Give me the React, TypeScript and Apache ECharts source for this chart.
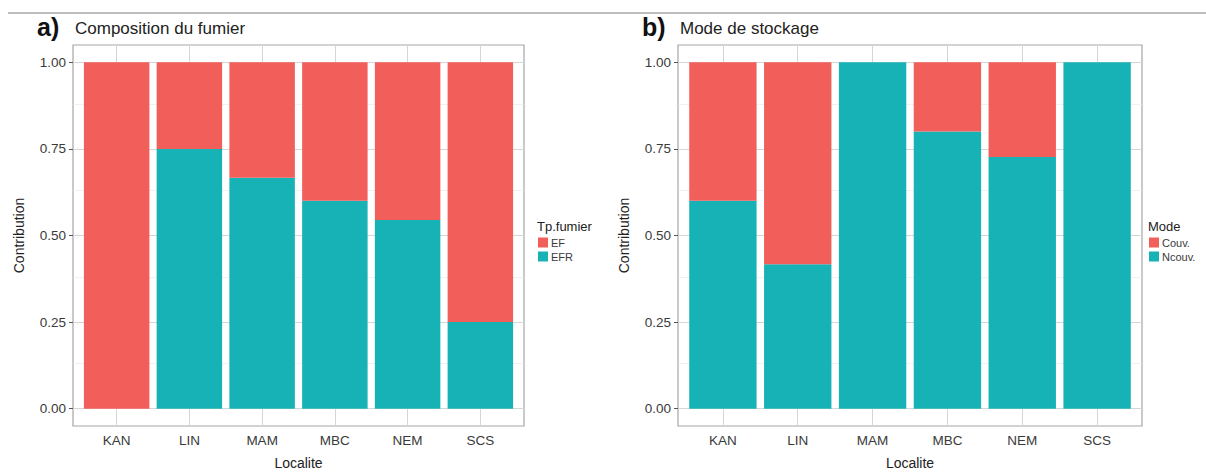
import React, { useEffect, useRef } from "react";
import * as echarts from "echarts";

const categories = ["KAN", "LIN", "MAM", "MBC", "NEM", "SCS"];
// Panel a: Composition du fumier
const efValues = [1, 0.25, 0.333, 0.4, 0.455, 0.75];
const efrValues = [0, 0.75, 0.667, 0.6, 0.545, 0.25];
// Panel b: Mode de stockage
const couvValues = [0.4, 0.583, 0, 0.2, 0.273, 0];
const ncouvValues = [0.6, 0.417, 1, 0.8, 0.727, 1];

const yTicks = [0, 0.25, 0.5, 0.75, 1];
const yMinor = [0.125, 0.375, 0.625, 0.875];

const RED = "#F25E5A";
const TEAL = "#17B2B6";
const FONT = "'Liberation Sans', Arial, Helvetica, sans-serif";
const TXT = "#3a3a3a";

const panels = [
  { left: 73, width: 451, tag: "a)", title: "Composition du fumier", legendTitle: "Tp.fumier", legendLeft: 538, names: ["EF", "EFR"], top: efValues, bottom: efrValues },
  { left: 678, width: 464, tag: "b)", title: "Mode de stockage", legendTitle: "Mode", legendLeft: 1149, names: ["Couv.", "Ncouv."], top: couvValues, bottom: ncouvValues },
];
const GRID_TOP = 45;
const GRID_H = 393;

export default function App() {
  const ref = useRef<HTMLDivElement>(null);
  useEffect(() => {
    document.body.style.margin = "0";
    const chart = echarts.init(ref.current!, null, { renderer: "svg" });
    const catIdx = categories.map((_, i) => i + 1);
    const grids: any[] = [];
    const xAxes: any[] = [];
    const yAxes: any[] = [];
    const series: any[] = [];
    const legends: any[] = [];
    const graphics: any[] = [
      { type: "line", shape: { x1: 8, y1: 13, x2: 1206, y2: 13 }, style: { stroke: "#a8a8a8", lineWidth: 1.5 } },
    ];
    panels.forEach((p, k) => {
      grids.push({ left: p.left, top: GRID_TOP, width: p.width, height: GRID_H, show: true, borderColor: "#a6a6a6", borderWidth: 1.2, backgroundColor: "#fff" });
      xAxes.push({
        type: "value", gridIndex: k, min: 0.4, max: 6.6,
        axisLine: { show: false },
        splitLine: { show: false },
        axisTick: { show: true, customValues: catIdx, length: 4, lineStyle: { color: "#555", width: 1 } },
        axisLabel: { customValues: catIdx, formatter: (v: number) => categories[Math.round(v) - 1] ?? "", color: TXT, fontSize: 13.5, fontFamily: FONT, margin: 7 },
        name: "Localite", nameLocation: "middle", nameGap: 30,
        nameTextStyle: { color: "#222", fontSize: 14, fontFamily: FONT },
      });
      yAxes.push({
        type: "value", gridIndex: k, min: -0.05, max: 1.05,
        axisLine: { show: false },
        splitLine: { show: false },
        axisTick: { show: true, customValues: yTicks, length: 4, lineStyle: { color: "#555", width: 1 } },
        axisLabel: { customValues: yTicks, formatter: (v: number) => v.toFixed(2), color: TXT, fontSize: 13.5, fontFamily: FONT, margin: 7 },
        name: "Contribution", nameLocation: "middle", nameGap: 47, nameRotate: 90,
        nameTextStyle: { color: "#222", fontSize: 14, fontFamily: FONT },
      });
      const barWidth = (p.width / 6.2) * 0.9;
      const gridLines: any[] = [
        ...yMinor.map((v) => ({ yAxis: v, lineStyle: { color: "#ebebeb", width: 0.7, type: "solid" } })),
        ...yTicks.map((v) => ({ yAxis: v, lineStyle: { color: "#d6d6d6", width: 1, type: "solid" } })),
        ...catIdx.map((v) => ({ xAxis: v, lineStyle: { color: "#d6d6d6", width: 1, type: "solid" } })),
      ];
      // data as [value, position] so that the stacked dimension is the value
      series.push({
        type: "bar", name: p.names[1], xAxisIndex: k, yAxisIndex: k, stack: "s" + k, barWidth,
        itemStyle: { color: TEAL }, z: 2,
        encode: { x: 1, y: 0 },
        data: p.bottom.map((v, i) => [v, i + 1]),
        markLine: { silent: true, z: 1, symbol: "none", label: { show: false }, animation: false, data: gridLines },
      });
      series.push({
        type: "bar", name: p.names[0], xAxisIndex: k, yAxisIndex: k, stack: "s" + k, barWidth,
        itemStyle: { color: RED }, z: 2,
        encode: { x: 1, y: 0 },
        data: p.top.map((v, i) => [v, i + 1]),
      });
      legends.push({
        data: p.names, left: p.legendLeft, top: 237, orient: "vertical", icon: "rect",
        itemWidth: 10, itemHeight: 10, itemGap: 3, padding: 0, selectedMode: false,
        textStyle: { fontSize: 11, color: TXT, fontFamily: FONT, padding: [0, 0, 0, -2] },
      });
      graphics.push({ type: "text", left: p.legendLeft - 1, top: 220, style: { text: p.legendTitle, fontSize: 13, fill: "#222", fontFamily: FONT } });
      graphics.push({ type: "text", left: p.left - 36, top: 14, style: { text: p.tag, fontSize: 25, fontWeight: "bold", fill: "#111", fontFamily: FONT } });
      graphics.push({ type: "text", left: p.left + 2, top: 20, style: { text: p.title, fontSize: 17, fill: "#222", fontFamily: FONT } });
    });
    chart.setOption({
      animation: false,
      backgroundColor: "#fff",
      grid: grids,
      xAxis: xAxes,
      yAxis: yAxes,
      legend: legends,
      series,
      graphic: graphics,
    });
    return () => chart.dispose();
  }, []);
  return <div ref={ref} style={{ width: 1206, height: 475 }} />;
}
